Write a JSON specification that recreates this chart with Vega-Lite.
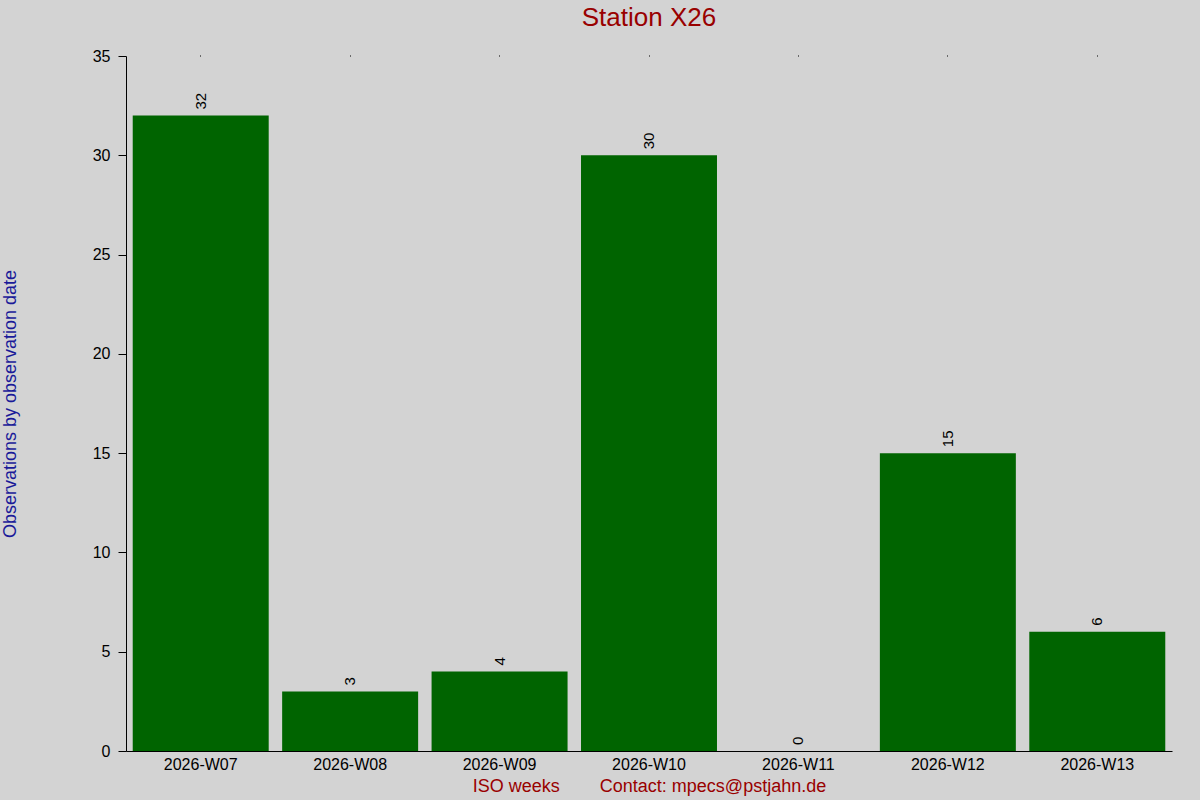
{
  "$schema": "https://vega.github.io/schema/vega-lite/v6.json",
  "description": "Weekly observation counts for Station X26.",
  "autosize": "none",
  "width": 1046,
  "height": 695,
  "padding": {"left": 126, "top": 56, "right": 28, "bottom": 49},
  "background": "#d3d3d3",
  "title": {
    "text": "Station X26",
    "color": "#990000",
    "font": "Liberation Sans",
    "fontSize": 26,
    "fontWeight": "normal",
    "anchor": "middle",
    "offset": 17
  },
  "data": {
    "values": [
      {"week": "2026-W07", "count": 32},
      {"week": "2026-W08", "count": 3},
      {"week": "2026-W09", "count": 4},
      {"week": "2026-W10", "count": 30},
      {"week": "2026-W11", "count": 0},
      {"week": "2026-W12", "count": 15},
      {"week": "2026-W13", "count": 6}
    ]
  },
  "layer": [
    {
      "mark": {"type": "bar", "color": "#006400"},
      "encoding": {
        "x": {
          "field": "week",
          "type": "ordinal",
          "scale": {"paddingInner": 0.09, "paddingOuter": 0.045},
          "axis": {
            "orient": "bottom",
            "title": "ISO weeks\u00a0\u00a0\u00a0\u00a0\u00a0\u00a0\u00a0\u00a0Contact: mpecs@pstjahn.de",
            "titleColor": "#990000",
            "titleFont": "Liberation Sans",
            "titleFontSize": 18,
            "titleFontWeight": "normal",
            "titlePadding": 5,
            "labelAngle": 0,
            "labelFont": "Liberation Sans",
            "labelFontSize": 16,
            "labelColor": "#000000",
            "labelPadding": 5,
            "ticks": false,
            "domainColor": "#000000",
            "domainWidth": 1
          }
        },
        "y": {
          "field": "count",
          "type": "quantitative",
          "scale": {"domain": [0, 35]},
          "axis": {
            "title": "Observations by observation date",
            "titleColor": "#1a1a99",
            "titleFont": "Liberation Sans",
            "titleFontSize": 18,
            "titleFontWeight": "normal",
            "titlePadding": 73,
            "values": [0, 5, 10, 15, 20, 25, 30, 35],
            "labelFont": "Liberation Sans",
            "labelFontSize": 16,
            "labelColor": "#000000",
            "labelPadding": 8,
            "tickSize": 8,
            "tickColor": "#000000",
            "domainColor": "#000000",
            "grid": false
          }
        }
      }
    },
    {
      "mark": {
        "type": "text",
        "angle": 270,
        "align": "left",
        "baseline": "middle",
        "dx": 6,
        "font": "Liberation Sans",
        "fontSize": 15,
        "color": "#000000"
      },
      "encoding": {
        "x": {"field": "week", "type": "ordinal", "axis": null},
        "y": {"field": "count", "type": "quantitative"},
        "text": {"field": "count", "type": "quantitative"}
      }
    },
    {
      "mark": {"type": "tick", "opacity": 0},
      "encoding": {
        "x": {
          "field": "week",
          "type": "ordinal",
          "axis": {
            "orient": "top",
            "title": null,
            "labels": false,
            "domain": false,
            "tickSize": 1,
            "tickColor": "#000000"
          }
        },
        "y": {"field": "count", "type": "quantitative"}
      }
    }
  ],
  "resolve": {"axis": {"x": "independent"}},
  "config": {"view": {"stroke": null}}
}
